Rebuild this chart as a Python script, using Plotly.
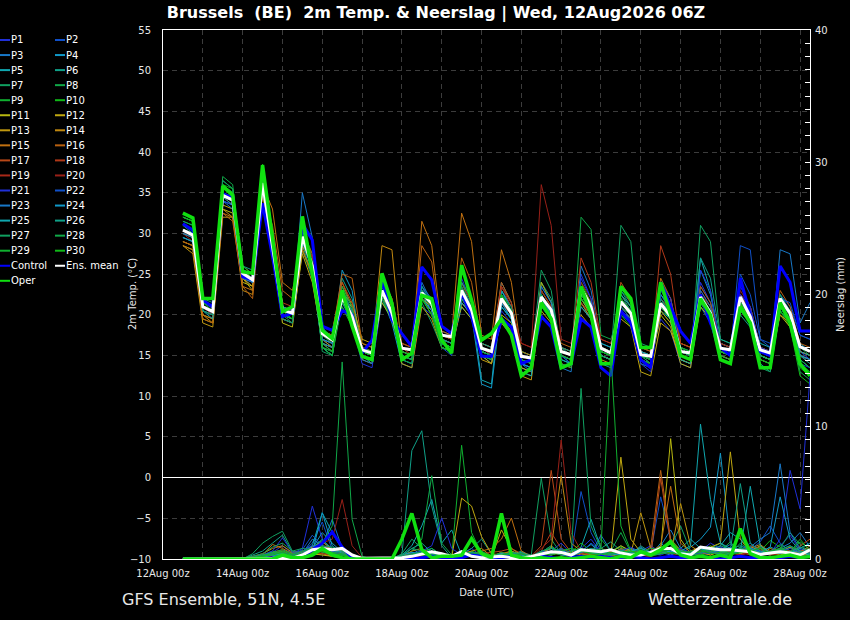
import pandas as pd
import plotly.graph_objects as go

# === Time axis: GFS run 12Aug2026 06Z, 6-hourly steps ===
times = pd.date_range("2026-08-12 12:00", periods=64, freq="6h")

# === 2m temperature (deg C), one list per member ===
T_P1 = [30.0, 29.5, 21.5, 20.8, 34.5, 34.0, 25.5, 24.5, 36.0, 29.0, 20.5, 20.0, 30.0, 27.0, 17.5, 16.5,
        23.0, 20.0, 15.0, 14.5, 24.0, 21.0, 15.5, 15.0, 21.0, 20.0, 17.0, 16.5, 24.5, 21.5, 16.0, 15.0,
        20.5, 19.0, 14.0, 13.5, 21.0, 19.5, 14.5, 14.0, 25.0, 22.0, 16.0, 15.5, 22.0, 20.5, 15.5, 15.0,
        19.5, 18.0, 14.0, 13.5, 24.0, 21.5, 16.5, 16.0, 23.5, 21.0, 16.0, 15.0, 21.0, 19.0, 15.5, 14.5]
T_P2 = [31.0, 30.5, 21.0, 20.0, 35.5, 35.0, 25.0, 24.0, 37.0, 30.0, 21.0, 20.5, 31.0, 25.0, 16.5, 16.0,
        21.0, 19.0, 15.5, 15.0, 22.0, 19.5, 15.0, 14.5, 23.5, 22.0, 18.0, 17.5, 22.0, 20.0, 15.0, 14.0,
        23.0, 21.0, 15.5, 15.0, 23.5, 21.5, 16.0, 15.5, 22.0, 20.0, 15.0, 14.5, 20.5, 19.5, 14.5, 14.0,
        23.0, 21.0, 16.0, 15.5, 21.0, 19.0, 14.5, 14.0, 25.0, 22.5, 17.0, 16.0, 22.5, 21.0, 17.5, 17.0]
T_P3 = [29.5, 29.0, 20.5, 20.0, 34.0, 33.5, 24.5, 23.5, 35.5, 28.0, 20.0, 19.5, 35.0, 29.5, 18.5, 17.0,
        22.0, 19.5, 15.0, 14.5, 22.5, 20.5, 16.0, 15.5, 24.0, 21.5, 16.5, 16.0, 22.0, 20.0, 16.0, 15.5,
        24.0, 21.5, 15.5, 15.0, 20.0, 18.5, 13.5, 13.0, 26.0, 23.0, 16.5, 16.0, 20.0, 19.0, 15.0, 14.0,
        22.0, 20.5, 15.5, 15.0, 21.5, 19.5, 15.0, 14.5, 22.0, 20.0, 15.0, 14.5, 28.0, 27.5, 19.0, 21.5]
T_P4 = [30.5, 30.0, 21.5, 21.0, 35.0, 34.0, 25.5, 25.0, 36.5, 29.0, 20.0, 19.5, 29.0, 26.0, 17.0, 16.0,
        25.5, 23.0, 15.0, 14.0, 22.0, 19.0, 14.0, 13.5, 22.5, 20.5, 16.5, 16.0, 21.0, 19.5, 15.5, 15.0,
        23.0, 21.0, 15.0, 14.5, 22.0, 20.0, 15.0, 14.0, 21.5, 19.5, 15.0, 14.5, 20.5, 19.5, 14.0, 13.5,
        21.0, 19.5, 15.0, 14.5, 25.5, 22.5, 16.5, 16.0, 21.5, 19.5, 15.0, 14.5, 21.5, 20.0, 16.5, 15.5]
T_P5 = [30.0, 29.5, 21.0, 20.5, 34.0, 33.5, 25.0, 24.5, 35.5, 28.5, 20.5, 20.0, 29.5, 26.5, 18.0, 17.5,
        21.5, 19.5, 16.0, 15.5, 23.5, 21.0, 16.0, 15.5, 22.0, 20.5, 16.5, 16.0, 22.5, 21.0, 12.0, 11.5,
        23.0, 20.5, 13.5, 13.0, 22.5, 20.0, 15.5, 15.0, 22.0, 20.5, 16.5, 16.0, 21.5, 20.0, 15.5, 15.0,
        20.5, 19.5, 15.0, 14.5, 27.0, 23.0, 16.0, 15.5, 22.0, 20.0, 16.5, 16.0, 21.0, 19.5, 15.0, 14.0]
T_P6 = [31.0, 30.0, 20.5, 20.0, 35.0, 34.5, 24.5, 24.0, 36.5, 28.0, 20.5, 20.0, 28.5, 25.0, 16.0, 15.0,
        24.5, 22.0, 16.0, 15.5, 21.5, 19.5, 15.0, 14.5, 23.0, 21.5, 17.0, 16.5, 24.0, 21.0, 16.5, 16.0,
        21.0, 19.5, 14.0, 13.5, 24.0, 22.0, 16.0, 15.0, 22.5, 21.0, 16.0, 15.5, 22.5, 20.5, 15.5, 15.0,
        22.0, 20.0, 16.0, 15.5, 23.5, 21.5, 16.5, 16.0, 20.0, 18.5, 14.0, 13.0, 20.5, 19.0, 14.5, 13.5]
T_P7 = [32.0, 31.5, 22.0, 21.5, 36.5, 35.5, 25.5, 25.0, 37.5, 29.5, 20.0, 19.0, 28.0, 24.5, 16.5, 16.0,
        23.0, 21.0, 15.5, 15.0, 23.0, 20.5, 15.5, 15.0, 21.5, 19.0, 16.0, 15.5, 22.0, 20.5, 16.0, 15.5,
        23.5, 21.5, 15.5, 15.0, 25.5, 23.0, 15.5, 15.0, 22.0, 20.5, 16.0, 15.5, 23.0, 21.5, 16.0, 15.5,
        21.0, 19.5, 14.5, 14.0, 31.0, 29.0, 17.0, 16.5, 21.0, 19.0, 14.5, 14.0, 22.0, 20.0, 14.0, 12.5]
T_P8 = [31.5, 31.0, 21.0, 20.5, 37.0, 36.0, 25.0, 24.0, 38.0, 30.0, 21.0, 20.5, 30.5, 27.5, 16.0, 15.0,
        22.5, 20.5, 15.5, 15.0, 22.0, 20.0, 15.5, 15.0, 22.5, 21.0, 17.5, 17.0, 23.5, 20.5, 16.0, 15.5,
        22.0, 20.0, 14.5, 14.0, 23.0, 21.0, 14.5, 14.0, 32.0, 30.5, 17.5, 17.0, 21.0, 19.5, 15.0, 14.0,
        22.0, 20.5, 16.0, 15.0, 22.0, 20.0, 15.5, 15.0, 21.5, 19.5, 15.5, 15.0, 22.5, 20.0, 16.0, 15.0]
T_P9 = [32.0, 31.5, 22.0, 21.0, 36.0, 35.0, 26.0, 25.0, 38.0, 29.0, 19.5, 19.0, 29.0, 26.0, 16.0, 15.5,
        22.0, 19.0, 15.5, 15.0, 23.5, 21.0, 16.0, 15.5, 23.0, 21.5, 16.5, 16.0, 22.5, 20.0, 15.0, 14.5,
        22.5, 20.0, 15.5, 15.0, 21.0, 19.5, 15.0, 14.5, 23.0, 21.0, 15.5, 15.0, 21.0, 20.0, 15.0, 14.5,
        20.5, 19.0, 15.0, 14.5, 21.0, 19.5, 15.5, 15.0, 22.5, 20.5, 16.0, 15.5, 21.0, 19.0, 14.5, 13.5]
T_P10 = [32.5, 32.0, 21.5, 21.0, 36.0, 35.5, 25.5, 24.5, 38.5, 29.5, 20.5, 20.0, 31.0, 27.0, 17.5, 16.5,
         21.0, 18.5, 15.0, 14.5, 22.5, 20.0, 15.5, 15.0, 22.0, 20.5, 16.5, 16.0, 23.0, 21.0, 15.5, 15.0,
         21.5, 19.5, 14.5, 14.0, 22.0, 20.5, 15.5, 15.0, 24.0, 21.5, 15.5, 15.0, 20.0, 18.5, 14.5, 13.5,
         21.5, 19.5, 16.0, 15.5, 22.5, 20.5, 16.0, 15.5, 21.0, 19.0, 15.5, 15.0, 20.5, 18.5, 12.5, 11.5]
T_P11 = [28.5, 28.0, 19.5, 19.0, 33.0, 32.5, 24.0, 23.5, 35.0, 28.0, 19.0, 18.5, 28.0, 25.0, 16.5, 16.0,
         22.0, 21.0, 16.5, 16.0, 21.5, 19.5, 15.0, 14.5, 22.0, 21.0, 17.5, 17.0, 21.0, 19.5, 15.0, 14.0,
         20.0, 19.0, 13.0, 12.5, 24.0, 21.5, 15.5, 15.0, 22.0, 20.0, 15.0, 14.5, 21.0, 19.5, 14.5, 14.0,
         20.0, 18.5, 14.0, 13.5, 22.0, 20.5, 15.5, 15.0, 21.5, 19.5, 15.5, 15.0, 20.0, 18.5, 15.0, 14.5]
T_P12 = [29.0, 28.5, 20.0, 19.5, 33.5, 33.0, 24.5, 23.0, 35.5, 28.5, 19.5, 19.0, 27.5, 24.0, 17.0, 16.5,
         22.5, 21.5, 17.0, 16.5, 23.0, 20.5, 16.5, 16.0, 22.0, 20.0, 16.5, 16.0, 21.5, 20.0, 15.5, 15.0,
         19.0, 17.5, 13.5, 13.0, 20.5, 19.0, 16.0, 15.5, 21.0, 19.5, 16.0, 15.5, 19.5, 18.5, 13.0, 12.5,
         19.0, 18.0, 14.5, 14.0, 21.0, 19.5, 15.5, 15.0, 22.0, 20.0, 15.0, 14.5, 22.0, 20.5, 15.5, 15.0]
T_P13 = [28.5, 27.5, 19.0, 18.5, 32.0, 32.0, 24.5, 23.5, 35.0, 27.5, 19.5, 19.0, 28.5, 26.0, 16.5, 15.5,
         23.5, 21.0, 14.5, 14.0, 22.0, 20.5, 14.0, 13.5, 21.0, 19.5, 16.0, 15.5, 21.5, 20.0, 14.5, 14.0,
         19.5, 18.0, 12.5, 12.0, 21.5, 19.5, 14.0, 13.5, 20.0, 18.5, 14.5, 14.0, 21.5, 20.0, 15.0, 14.5,
         20.5, 19.0, 14.5, 14.0, 21.5, 20.0, 15.0, 14.5, 20.5, 19.0, 14.5, 14.0, 20.0, 19.0, 15.0, 14.5]
T_P14 = [29.0, 28.5, 20.0, 19.0, 33.0, 32.0, 23.0, 22.5, 35.5, 30.0, 21.0, 20.5, 29.0, 26.5, 17.0, 16.0,
         22.0, 20.0, 16.0, 15.5, 28.5, 28.0, 15.5, 15.0, 22.0, 20.5, 17.0, 16.5, 22.5, 20.5, 16.0, 15.5,
         21.5, 20.0, 15.0, 14.5, 22.0, 20.0, 14.0, 13.5, 21.5, 19.5, 15.0, 14.5, 22.0, 20.5, 15.5, 15.0,
         21.0, 19.5, 15.5, 15.0, 22.0, 20.0, 16.0, 15.5, 21.0, 19.5, 15.0, 14.5, 21.5, 20.0, 15.5, 15.0]
T_P15 = [28.5, 28.0, 20.0, 19.5, 32.5, 32.0, 23.5, 23.0, 36.0, 33.0, 24.0, 23.0, 28.0, 25.0, 18.5, 18.0,
         24.0, 21.0, 15.0, 14.5, 23.0, 21.0, 15.5, 15.0, 31.5, 28.5, 18.0, 17.5, 32.5, 29.0, 17.5, 17.0,
         28.0, 24.0, 15.5, 15.0, 22.0, 20.5, 15.0, 14.5, 23.5, 21.5, 16.0, 15.5, 22.5, 21.0, 16.0, 15.5,
         24.5, 22.0, 16.5, 16.0, 22.5, 21.0, 15.5, 15.0, 21.5, 19.5, 15.5, 15.0, 22.0, 20.5, 16.0, 15.5]
T_P16 = [29.0, 28.5, 19.5, 19.0, 32.5, 31.5, 23.5, 22.0, 35.0, 31.0, 23.0, 22.0, 30.0, 27.5, 18.0, 17.5,
         25.0, 24.5, 16.5, 16.0, 24.5, 22.0, 16.0, 15.5, 28.5, 26.5, 17.0, 16.5, 27.0, 24.0, 16.5, 16.0,
         24.0, 21.5, 15.0, 14.5, 23.0, 21.0, 16.5, 16.0, 22.5, 20.5, 15.0, 14.5, 23.5, 21.5, 15.5, 15.0,
         24.0, 22.0, 16.5, 16.0, 21.5, 20.0, 15.0, 14.5, 22.5, 21.0, 16.0, 15.5, 23.0, 21.0, 16.5, 16.0]
T_P17 = [30.5, 30.0, 21.0, 20.5, 34.5, 34.0, 25.5, 24.5, 36.5, 29.5, 21.0, 20.5, 30.0, 27.0, 18.0, 17.5,
         24.0, 21.5, 15.0, 14.5, 24.5, 22.0, 16.0, 15.0, 22.5, 21.0, 17.0, 16.5, 24.0, 21.5, 15.5, 15.0,
         22.0, 20.0, 15.0, 14.5, 22.5, 20.5, 15.5, 15.0, 21.5, 20.0, 15.5, 15.0, 24.0, 22.0, 16.0, 15.5,
         22.5, 21.0, 15.0, 14.5, 23.5, 21.5, 16.5, 16.0, 22.0, 20.5, 16.0, 15.5, 21.5, 20.0, 15.5, 15.0]
T_P18 = [30.5, 29.5, 21.5, 21.0, 34.5, 34.0, 26.0, 25.0, 36.0, 28.5, 21.5, 21.0, 29.0, 26.0, 17.5, 17.0,
         22.5, 20.0, 16.0, 15.5, 23.0, 20.5, 16.5, 16.0, 23.0, 21.0, 16.0, 15.5, 22.5, 21.0, 16.5, 16.0,
         23.5, 21.5, 15.0, 14.5, 22.0, 20.0, 16.0, 15.5, 27.0, 24.0, 17.0, 16.5, 22.0, 20.0, 15.0, 14.5,
         28.5, 25.0, 16.5, 16.0, 22.0, 20.5, 16.0, 15.5, 22.5, 21.0, 16.0, 15.5, 22.0, 20.0, 15.0, 14.5]
T_P19 = [30.0, 29.5, 21.0, 20.0, 35.0, 34.0, 25.0, 24.5, 36.5, 28.0, 20.5, 20.0, 30.5, 27.0, 17.0, 16.5,
         22.0, 19.5, 15.5, 15.0, 24.0, 21.5, 16.0, 15.5, 22.5, 21.0, 17.5, 17.0, 23.0, 21.0, 16.0, 15.0,
         23.5, 21.0, 16.5, 16.0, 23.0, 21.0, 15.5, 15.0, 24.0, 22.0, 17.0, 16.5, 21.5, 20.0, 15.5, 15.0,
         22.0, 20.5, 15.5, 15.0, 23.0, 21.0, 16.0, 15.5, 22.5, 20.5, 15.5, 15.0, 21.0, 19.5, 15.0, 14.0]
T_P20 = [30.0, 29.0, 20.5, 20.0, 34.5, 33.5, 24.5, 24.0, 36.0, 29.0, 20.5, 20.0, 29.5, 26.5, 17.5, 17.0,
         22.5, 20.5, 16.0, 15.5, 23.0, 20.5, 15.5, 15.0, 22.0, 20.5, 17.0, 16.5, 23.5, 21.0, 16.0, 15.5,
         21.5, 20.0, 16.5, 16.0, 36.0, 31.0, 17.0, 16.5, 23.0, 21.0, 16.0, 15.5, 22.0, 20.5, 15.5, 15.0,
         21.5, 20.0, 15.0, 14.5, 22.5, 21.0, 16.5, 16.0, 23.0, 21.0, 15.5, 15.0, 22.0, 20.5, 16.0, 15.5]
T_P21 = [30.5, 30.0, 21.0, 20.5, 34.0, 33.5, 25.0, 24.0, 35.5, 27.5, 19.5, 19.0, 29.0, 25.5, 16.0, 15.5,
         21.5, 19.0, 14.0, 13.5, 22.0, 20.0, 14.5, 14.0, 23.0, 21.5, 16.5, 16.0, 22.5, 20.5, 15.5, 15.0,
         22.0, 20.0, 14.5, 14.0, 22.5, 20.5, 15.0, 14.5, 24.5, 22.0, 15.0, 14.5, 21.5, 20.0, 14.0, 13.0,
         24.0, 22.0, 15.5, 15.0, 25.5, 23.0, 16.0, 15.5, 22.5, 21.0, 16.0, 15.5, 20.5, 19.0, 14.0, 13.5]
T_P22 = [31.0, 30.5, 21.5, 21.0, 35.0, 34.5, 24.5, 24.0, 37.0, 29.0, 20.0, 19.5, 30.0, 26.5, 17.0, 16.5,
         22.5, 20.5, 15.0, 14.5, 23.5, 21.5, 16.0, 15.5, 23.5, 21.0, 16.0, 15.0, 23.0, 21.5, 16.0, 15.5,
         21.5, 19.5, 14.0, 13.5, 22.0, 20.0, 15.0, 14.0, 22.5, 21.0, 15.5, 15.0, 21.0, 19.5, 15.0, 14.5,
         21.5, 20.0, 15.0, 14.5, 22.0, 20.5, 15.5, 15.0, 28.5, 28.0, 17.0, 16.5, 22.0, 21.5, 17.5, 17.0]
T_P23 = [29.5, 29.0, 20.5, 20.0, 34.0, 33.0, 24.5, 24.0, 36.0, 28.0, 20.0, 19.5, 29.0, 26.0, 16.5, 16.0,
         22.0, 20.0, 14.5, 14.0, 24.0, 21.5, 15.0, 14.5, 22.0, 20.5, 16.0, 15.5, 23.0, 21.0, 15.5, 15.0,
         21.0, 19.5, 14.0, 13.0, 23.5, 21.5, 15.5, 15.0, 22.5, 20.5, 15.5, 15.0, 21.5, 20.0, 15.0, 14.5,
         22.5, 20.5, 15.5, 15.0, 23.0, 21.0, 15.5, 15.0, 21.0, 19.5, 15.0, 14.5, 21.5, 20.0, 15.0, 14.5]
T_P24 = [30.0, 29.5, 21.0, 20.5, 34.5, 34.0, 25.0, 24.0, 36.0, 29.0, 21.0, 20.0, 30.5, 26.0, 17.0, 16.5,
         21.5, 19.5, 15.5, 15.0, 22.5, 20.0, 14.5, 14.0, 22.0, 20.5, 17.0, 16.5, 21.5, 20.0, 11.5, 11.0,
         21.5, 19.5, 14.0, 13.5, 22.5, 20.5, 15.0, 14.5, 21.0, 19.5, 14.0, 13.5, 22.0, 20.5, 15.5, 15.0,
         22.5, 21.0, 15.5, 15.0, 22.0, 20.0, 16.0, 15.5, 21.5, 20.0, 15.5, 15.0, 21.0, 19.5, 15.0, 14.5]
T_P25 = [29.5, 29.0, 20.5, 19.5, 34.5, 33.5, 25.5, 25.0, 35.5, 28.5, 21.0, 20.5, 29.5, 26.5, 16.0, 15.0,
         23.0, 20.5, 15.0, 14.5, 23.5, 21.5, 15.5, 15.0, 23.0, 21.5, 16.5, 16.0, 22.0, 20.5, 15.0, 14.5,
         21.0, 19.5, 13.0, 12.5, 22.0, 20.0, 14.5, 14.0, 23.0, 21.5, 15.0, 14.5, 22.5, 21.0, 15.5, 15.0,
         21.0, 19.5, 14.5, 14.0, 22.5, 20.5, 16.0, 15.5, 21.5, 20.0, 15.0, 14.5, 21.0, 19.5, 15.5, 15.0]
T_P26 = [30.5, 30.0, 21.5, 21.0, 35.0, 34.0, 26.0, 25.5, 36.5, 29.0, 20.0, 19.5, 29.0, 25.5, 16.0, 15.0,
         22.0, 20.5, 15.5, 15.0, 22.5, 20.5, 16.0, 15.5, 23.5, 21.5, 17.0, 16.5, 24.0, 22.0, 16.5, 16.0,
         22.0, 20.5, 14.5, 14.0, 22.5, 20.0, 16.0, 15.5, 23.0, 21.0, 16.0, 15.5, 23.0, 21.0, 15.0, 14.5,
         22.0, 20.0, 15.5, 15.0, 27.0, 24.5, 17.0, 16.5, 22.0, 20.5, 15.5, 15.0, 22.5, 20.5, 15.0, 14.0]
T_P27 = [31.5, 31.0, 20.5, 20.0, 36.5, 35.5, 25.0, 24.5, 37.5, 28.5, 19.5, 19.0, 29.5, 26.5, 15.5, 15.0,
         23.0, 20.5, 15.0, 14.5, 22.5, 20.0, 15.0, 14.5, 23.0, 21.0, 16.5, 16.0, 23.5, 21.0, 15.5, 15.0,
         22.5, 21.0, 15.0, 14.5, 22.0, 19.5, 14.0, 13.5, 22.5, 21.0, 15.5, 15.0, 31.0, 29.0, 16.5, 16.0,
         21.5, 20.0, 15.0, 14.5, 22.0, 20.5, 15.5, 15.0, 20.5, 19.0, 13.5, 13.0, 21.0, 19.0, 14.5, 13.5]
T_P28 = [32.0, 31.5, 21.5, 21.0, 36.0, 35.0, 25.5, 24.5, 37.5, 30.0, 20.5, 20.0, 29.5, 26.0, 16.5, 15.5,
         23.5, 21.0, 16.0, 15.5, 22.0, 19.5, 15.0, 14.5, 22.5, 21.0, 16.0, 15.5, 22.5, 20.5, 15.0, 14.5,
         22.5, 20.0, 14.5, 14.0, 21.5, 19.5, 15.0, 14.5, 23.0, 20.5, 15.0, 14.5, 22.0, 20.0, 14.5, 14.0,
         21.0, 19.5, 15.0, 14.5, 22.5, 20.5, 15.0, 14.5, 21.5, 20.0, 14.5, 14.0, 20.5, 19.0, 13.0, 12.0]
T_P29 = [31.0, 30.5, 21.0, 20.5, 35.5, 35.0, 26.0, 25.0, 37.0, 29.0, 20.0, 19.5, 30.0, 26.0, 16.0, 15.0,
         21.5, 19.5, 15.5, 15.0, 22.0, 19.5, 14.5, 14.0, 22.0, 20.0, 16.5, 16.0, 22.0, 20.0, 15.5, 15.0,
         22.0, 20.0, 14.5, 14.0, 22.5, 20.5, 15.0, 14.5, 22.0, 20.5, 15.5, 15.0, 21.5, 20.0, 14.5, 14.0,
         21.5, 20.0, 15.5, 15.0, 21.5, 19.5, 14.5, 14.0, 22.0, 20.0, 15.0, 14.5, 21.5, 19.5, 14.0, 13.0]
T_P30 = [32.0, 31.5, 21.5, 20.5, 36.0, 35.0, 25.5, 25.0, 38.0, 30.5, 20.5, 19.5, 30.0, 26.5, 16.0, 15.5,
         22.0, 19.5, 15.5, 15.0, 22.5, 20.0, 15.5, 15.0, 22.0, 20.0, 16.0, 15.5, 22.5, 20.5, 16.0, 15.5,
         22.5, 20.5, 15.0, 14.5, 22.0, 20.5, 15.5, 15.0, 22.5, 20.5, 15.5, 15.0, 22.0, 20.5, 15.0, 14.5,
         21.0, 19.5, 15.0, 14.5, 22.0, 20.0, 15.5, 15.0, 21.5, 19.5, 14.5, 14.0, 20.5, 19.0, 13.5, 12.5]

T_control = [31.2, 30.4, 21.8, 21.0, 34.9, 34.3, 24.7, 24.3, 33.7, 27.2, 19.8, 20.2, 31.2, 29.2, 18.6, 18.1,
             20.5, 20.0, 15.3, 16.9, 24.3, 19.4, 17.7, 16.1, 25.9, 24.3, 18.6, 17.7, 22.7, 19.8, 14.9, 14.9,
             19.5, 18.5, 14.0, 14.5, 19.8, 18.5, 13.5, 14.0, 19.5, 18.5, 13.5, 12.5, 20.5, 19.0, 14.5, 13.5,
             24.0, 21.0, 18.0, 16.5, 22.5, 19.0, 16.0, 15.0, 24.5, 20.0, 15.5, 15.0, 26.0, 24.0, 18.0, 18.0]
T_oper = [32.5, 31.9, 22.0, 22.0, 35.8, 34.7, 25.3, 25.1, 38.4, 29.2, 20.4, 21.0, 32.1, 25.1, 18.1, 17.1,
          23.0, 18.6, 14.9, 14.5, 25.1, 21.4, 14.5, 15.3, 22.4, 22.0, 16.9, 15.3, 26.1, 21.8, 16.9, 17.7,
          19.5, 17.5, 12.5, 13.5, 21.5, 19.5, 13.5, 14.0, 23.5, 20.0, 14.0, 14.0, 23.5, 22.0, 16.0, 16.0,
          24.0, 20.0, 15.0, 14.5, 22.0, 20.0, 14.5, 14.0, 21.0, 19.0, 13.5, 13.5, 21.5, 19.0, 14.0, 12.5]
T_mean = [30.4, 29.8, 21.0, 20.4, 34.7, 34.1, 25.1, 24.3, 36.2, 28.5, 20.6, 20.2, 29.6, 26.0, 17.7, 16.9,
          22.2, 19.8, 15.7, 15.3, 23.0, 20.2, 15.9, 15.7, 22.7, 21.4, 17.5, 17.3, 23.0, 20.6, 15.9, 15.5,
          22.0, 20.2, 14.9, 14.7, 22.2, 20.6, 15.5, 15.1, 23.3, 21.0, 15.9, 15.3, 21.6, 20.2, 15.1, 14.9,
          21.4, 19.8, 15.5, 15.3, 22.2, 20.2, 15.9, 15.7, 22.2, 19.8, 15.7, 15.3, 22.0, 20.2, 16.1, 15.5]

# === Precipitation (mm per 6h), one list per member ===
R_P1 = [0, 0, 0, 0, 0, 0, 0, 0.2, 0.3, 0.5, 1.0, 0.4, 0.8, 4.0, 1.5, 0.6,
        0.3, 0.1, 0, 0, 0, 0, 0.1, 0.5, 0.2, 0.4, 0, 0, 0.3, 0.8, 0.2, 0,
        0, 0.5, 0.2, 0, 0.3, 0.6, 1.2, 0.4, 0.8, 1.5, 0.5, 0.3, 0.4, 0.2, 0.6, 1.0,
        0.5, 0.8, 0.3, 0.2, 0.6, 1.2, 0.8, 0.4, 0.9, 0.5, 0.3, 0.6, 1.0, 1.8, 0.7, 0.4]
R_P2 = [0, 0, 0, 0, 0, 0, 0, 0.1, 0.2, 0.4, 0.6, 0.3, 0.5, 1.2, 2.8, 0.7,
        0.4, 0.2, 0, 0, 0, 0, 0, 0.3, 0.5, 0.2, 0.1, 0, 0.2, 0.4, 0.1, 0,
        0.2, 0.6, 0.3, 0.1, 0.5, 1.0, 0.4, 0.2, 5.1, 2.0, 0.6, 0.3, 0.8, 0.4, 0.3, 0.5,
        4.7, 1.5, 0.6, 0.3, 0.5, 0.8, 1.2, 0.6, 0.4, 0.7, 1.3, 2.5, 1.2, 0.6, 0.3, 0.8]
R_P3 = [0, 0, 0, 0, 0, 0, 0, 0, 0.2, 0.3, 0.5, 0.2, 0.4, 1.5, 1.0, 3.0,
        0.8, 0.3, 0, 0, 0, 0, 0.2, 0.8, 0.3, 0.6, 0.2, 0, 0.1, 0.3, 0.5, 0.2,
        0.3, 0.2, 0.1, 0, 0.4, 0.8, 0.5, 0.3, 0.7, 0.4, 1.8, 0.6, 0.3, 0.5, 0.9, 0.4,
        1.0, 2.2, 0.8, 0.3, 0.6, 0.4, 0.7, 1.1, 0.5, 0.9, 0.4, 0.3, 0.8, 1.2, 2.0, 0.9]
R_P4 = [0, 0, 0, 0, 0, 0, 0, 0.1, 0.1, 0.2, 0.4, 0.2, 0.3, 0.8, 2.0, 1.2,
        0.5, 0.2, 0, 0, 0, 0, 0, 0.2, 0.4, 0.8, 0.3, 0.1, 0.2, 0.5, 0.3, 0.1,
        0.4, 0.3, 0.2, 0.1, 0.3, 0.5, 0.8, 0.4, 0.6, 1.1, 0.5, 0.2, 0.4, 0.8, 0.5, 0.3,
        1.2, 0.6, 0.4, 0.9, 1.5, 2.4, 8.0, 1.2, 0.6, 0.4, 0.8, 0.5, 0.7, 1.0, 0.6, 0.4]
R_P5 = [0, 0, 0, 0, 0, 0, 0, 0, 0.1, 0.3, 0.5, 0.3, 0.6, 1.0, 3.5, 2.0,
        0.7, 0.3, 0.1, 0, 0, 0, 0.3, 1.0, 2.5, 4.5, 1.2, 2.2, 0.3, 0.5, 0.2, 0,
        0.2, 0.4, 0.3, 0.1, 0.5, 0.8, 0.6, 0.4, 0.9, 3.0, 0.8, 0.3, 0.5, 0.7, 0.4, 0.6,
        0.9, 0.5, 0.8, 1.5, 0.8, 0.6, 1.0, 2.0, 1.5, 0.8, 0.5, 0.9, 0.6, 0.4, 0.8, 1.2]
R_P6 = [0, 0, 0, 0, 0, 0, 0, 0.3, 0.6, 1.2, 1.8, 0.5, 0.4, 0.9, 1.4, 0.8,
        0.3, 0.2, 0, 0, 0, 0.1, 0.3, 8.2, 9.7, 4.0, 1.0, 0.1, 0.4, 0.8, 1.5, 0.4,
        0.2, 0.3, 0.6, 0.2, 0.4, 0.9, 0.5, 0.3, 0.6, 0.4, 0.8, 1.3, 0.6, 0.3, 1.0, 0.5,
        0.7, 1.2, 0.5, 0.3, 0.9, 0.6, 0.4, 0.8, 1.0, 0.7, 0.5, 0.4, 0.6, 0.9, 0.5, 0.3]
R_P7 = [0, 0, 0, 0, 0, 0, 0, 0.4, 1.2, 1.7, 2.1, 0.6, 0.3, 0.5, 0.8, 0.4,
        0.6, 0.2, 0, 0, 0, 0, 0.4, 1.5, 0.8, 0.3, 0.1, 0, 0.2, 0.4, 0.1, 0,
        0.3, 0.2, 0.5, 0.3, 6.1, 1.5, 0.4, 0.2, 0.5, 0.8, 0.3, 0.6, 1.0, 0.5, 0.3, 0.2,
        0.4, 0.9, 2.5, 0.6, 0.3, 0.5, 0.8, 0.4, 1.2, 0.6, 0.3, 0.5, 0.8, 2.0, 1.1, 0.5]
R_P8 = [0, 0, 0, 0, 0, 0, 0, 0.1, 0.2, 0.4, 0.3, 0.5, 0.6, 0.9, 1.2, 2.5,
        14.9, 3.0, 0.2, 0, 0, 0, 0.2, 0.6, 1.5, 6.3, 1.2, 0.3, 0.4, 0.2, 0.1, 0,
        0.2, 0.5, 0.3, 0.1, 0.4, 0.3, 0.6, 0.8, 0.5, 0.4, 1.5, 0.6, 2.0, 0.5, 0.3, 0.4,
        0.6, 0.8, 0.4, 0.3, 0.5, 1.0, 0.6, 1.3, 0.4, 0.7, 0.9, 0.5, 1.1, 0.6, 0.4, 0.8]
R_P9 = [0, 0, 0, 0, 0, 0, 0, 0, 0.1, 0.3, 0.5, 0.2, 0.4, 0.6, 0.8, 0.5,
        0.3, 0.1, 0, 0, 0, 0, 0.2, 0.4, 0.6, 0.8, 0.3, 0.1, 8.6, 2.0, 0.4, 0.1,
        0.3, 0.2, 0.4, 0.2, 0.5, 1.0, 0.4, 0.3, 0.7, 0.5, 0.4, 0.6, 0.9, 0.4, 0.3, 0.5,
        1.0, 0.6, 0.4, 0.3, 0.5, 0.8, 1.2, 0.6, 0.4, 0.9, 0.5, 0.3, 0.6, 0.4, 1.3, 0.7]
R_P10 = [0, 0, 0, 0, 0, 0, 0, 0.1, 0.3, 0.6, 0.4, 0.2, 0.5, 0.3, 0.6, 0.8,
         0.4, 0.2, 0, 0, 0, 0, 0, 0.3, 0.5, 0.3, 0.2, 0, 0.2, 0.6, 0.3, 0.1,
         0.4, 0.3, 0.2, 0.1, 0.6, 0.4, 0.8, 0.5, 1.2, 0.6, 0.4, 0.3, 0.5, 0.3, 0.8, 0.4,
         0.6, 1.5, 0.7, 0.4, 0.3, 0.5, 0.4, 0.6, 0.8, 0.4, 0.6, 1.4, 0.9, 0.5, 0.3, 0.6]
R_P11 = [0, 0, 0, 0, 0, 0, 0, 0, 0.1, 0.2, 0.3, 0.1, 0.2, 0.4, 0.3, 0.2,
         0.1, 0, 0, 0, 0, 0, 0, 0.2, 0.3, 0.1, 0, 0, 0.2, 0.5, 0.3, 0.1,
         2.2, 0.8, 0.3, 0.1, 0.4, 0.3, 0.5, 0.6, 0.3, 0.4, 0.8, 0.5, 1.0, 0.6, 0.4, 0.3,
         0.7, 9.1, 1.5, 0.4, 0.5, 0.3, 0.6, 0.8, 0.4, 0.6, 1.0, 0.5, 0.3, 0.5, 0.4, 0.2]
R_P12 = [0, 0, 0, 0, 0, 0, 0, 0, 0.1, 0.2, 0.1, 0, 0.2, 0.3, 0.4, 0.2,
         0.1, 0, 0, 0, 0, 0, 0.1, 0.2, 0.4, 0.2, 0.1, 0.1, 4.6, 4.0, 1.7, 0.4,
         0.3, 0.6, 0.2, 0.1, 0.3, 0.5, 0.4, 0.2, 0.6, 0.3, 0.5, 0.4, 7.7, 1.5, 0.5, 0.3,
         0.4, 0.8, 0.6, 0.3, 0.5, 0.9, 1.2, 8.1, 1.5, 0.5, 0.3, 0.4, 0.6, 0.3, 0.2, 0.4]
R_P13 = [0, 0, 0, 0, 0, 0, 0, 0, 0.2, 0.4, 0.6, 0.3, 0.5, 0.8, 0.6, 0.4,
         0.3, 0.1, 0, 0, 0, 0, 0, 0.1, 0.3, 0.5, 0.2, 0, 0.4, 0.6, 0.8, 0.2,
         0.5, 0.3, 0.2, 0.1, 0.3, 0.4, 0.6, 0.5, 0.4, 0.6, 0.3, 0.2, 0.5, 0.4, 3.5, 0.8,
         0.6, 0.4, 4.2, 1.0, 0.5, 0.3, 0.6, 0.4, 0.7, 0.5, 0.3, 0.8, 0.5, 0.9, 0.4, 0.3]
R_P14 = [0, 0, 0, 0, 0, 0, 0, 0.2, 0.4, 0.8, 1.0, 0.5, 0.6, 0.9, 1.3, 0.7,
         0.4, 0.2, 0, 0, 0, 0, 0.2, 0.6, 0.8, 0.4, 0.1, 0, 0.5, 0.3, 0.2, 0.1,
         0.4, 0.6, 0.3, 0.1, 0.5, 0.8, 6.3, 1.2, 0.6, 0.4, 0.3, 0.5, 0.7, 0.4, 0.6, 0.3,
         0.5, 0.8, 0.4, 0.6, 0.9, 0.5, 0.3, 0.4, 0.6, 0.8, 1.1, 0.5, 0.4, 0.3, 0.5, 1.0]
R_P15 = [0, 0, 0, 0, 0, 0, 0, 0.1, 0.3, 1.1, 0.8, 0.4, 0.5, 0.6, 1.0, 0.8,
         0.5, 0.2, 0.1, 0, 0, 0, 0.3, 0.4, 0.3, 0.2, 0.1, 0, 0.3, 0.4, 0.6, 0.8,
         1.5, 3.1, 0.6, 0.2, 0.4, 0.5, 0.3, 0.2, 0.6, 0.4, 0.5, 0.3, 0.8, 0.5, 0.4, 0.6,
         1.0, 5.5, 1.2, 0.5, 0.4, 0.6, 0.8, 0.5, 0.6, 0.4, 0.5, 0.3, 0.7, 0.5, 0.6, 0.4]
R_P16 = [0, 0, 0, 0, 0, 0, 0, 0, 0.2, 0.5, 0.7, 0.4, 0.3, 0.6, 0.8, 0.5,
         0.6, 0.3, 0, 0, 0, 0, 0, 0.2, 0.4, 0.6, 0.3, 0, 0.2, 0.3, 0.5, 0.2,
         0.3, 0.4, 0.2, 0.1, 0.5, 0.6, 0.4, 0.3, 0.4, 0.8, 0.5, 0.6, 0.5, 0.3, 0.4, 0.9,
         6.7, 1.5, 0.6, 0.4, 0.5, 0.7, 0.4, 0.3, 0.6, 1.0, 0.8, 0.4, 0.5, 0.3, 0.6, 0.8]
R_P17 = [0, 0, 0, 0, 0, 0, 0, 0.1, 0.2, 0.3, 0.5, 0.3, 0.4, 0.7, 0.5, 0.3,
         0.8, 0.3, 0, 0, 0, 0, 0.1, 0.3, 0.2, 0.4, 0.2, 0.1, 0.3, 0.2, 0.4, 0.5,
         0.6, 0.8, 0.4, 0.2, 1.0, 6.7, 1.5, 0.5, 0.4, 0.3, 0.6, 0.5, 0.4, 0.6, 0.3, 0.2,
         6.1, 1.2, 0.5, 0.3, 0.6, 0.4, 0.8, 0.5, 0.3, 0.5, 0.7, 0.4, 0.6, 0.4, 1.0, 1.5]
R_P18 = [0, 0, 0, 0, 0, 0, 0, 0, 0.1, 0.3, 0.4, 0.2, 0.3, 0.5, 0.4, 0.3,
         0.5, 0.2, 0, 0, 0, 0, 0, 0.2, 0.3, 0.5, 0.4, 0.1, 0.2, 0.3, 0.2, 0.1,
         0.5, 0.3, 0.2, 0.1, 0.6, 2.0, 0.8, 0.4, 0.5, 0.6, 0.4, 0.3, 0.3, 0.5, 0.6, 0.4,
         0.8, 0.5, 0.7, 0.3, 0.4, 0.6, 0.5, 0.8, 0.5, 0.3, 0.4, 0.6, 0.8, 0.6, 0.4, 0.5]
R_P19 = [0, 0, 0, 0, 0, 0, 0, 0, 0.2, 0.4, 0.3, 0.2, 0.3, 0.4, 0.6, 0.5,
         0.7, 0.2, 0, 0, 0, 0, 0, 0.1, 0.2, 0.3, 0.1, 0, 0.1, 0.3, 0.2, 0.1,
         0.2, 0.4, 0.3, 0.1, 0.3, 0.5, 0.7, 0.4, 0.5, 0.4, 0.3, 0.6, 0.4, 0.3, 0.5, 0.3,
         0.6, 0.4, 0.3, 0.5, 0.4, 0.7, 0.5, 0.3, 0.6, 0.4, 0.5, 0.3, 0.4, 0.6, 0.3, 0.5]
R_P20 = [0, 0, 0, 0, 0, 0, 0, 0, 0.1, 0.2, 0.4, 0.3, 0.5, 0.8, 1.2, 1.5,
         4.5, 1.0, 0.1, 0, 0, 0, 0, 0.2, 0.3, 0.2, 0.1, 0, 0.2, 0.4, 0.3, 0.1,
         0.3, 0.5, 0.2, 0.1, 0.8, 1.5, 9.0, 2.0, 0.6, 0.4, 0.3, 0.5, 0.4, 0.6, 0.3, 0.2,
         0.5, 0.8, 0.4, 0.3, 0.6, 0.4, 0.7, 0.5, 0.3, 0.5, 0.4, 0.6, 0.5, 0.3, 0.4, 0.6]
R_P21 = [0, 0, 0, 0, 0, 0, 0, 0.1, 0.3, 0.6, 1.6, 0.5, 0.6, 1.0, 0.8, 0.5,
         0.3, 0.2, 0, 0, 0, 0, 0.2, 0.4, 0.6, 1.0, 3.1, 0.8, 0.3, 0.2, 0.1, 0,
         0.2, 0.4, 0.3, 0.1, 0.5, 0.3, 0.6, 0.4, 0.8, 0.5, 0.4, 0.3, 0.6, 0.9, 0.5, 0.4,
         0.3, 0.6, 0.8, 0.5, 0.4, 0.7, 0.9, 0.6, 0.5, 0.8, 0.6, 0.4, 1.5, 6.7, 3.8, 13.8]
R_P22 = [0, 0, 0, 0, 0, 0, 0, 0, 0.2, 0.3, 0.5, 0.3, 0.7, 1.8, 1.0, 0.6,
         0.4, 0.2, 0, 0, 0, 0, 0, 0.3, 0.5, 0.3, 0.2, 0, 0.2, 0.5, 0.3, 0.1,
         0.3, 0.2, 0.4, 0.2, 0.6, 0.4, 0.8, 0.3, 0.5, 1.2, 0.6, 0.4, 0.3, 0.5, 0.4, 0.6,
         0.8, 0.6, 0.5, 0.3, 0.5, 0.4, 0.6, 0.9, 0.7, 1.2, 0.5, 0.4, 0.6, 0.8, 0.5, 0.4]
R_P23 = [0, 0, 0, 0, 0, 0, 0, 0.1, 0.2, 0.4, 0.3, 0.2, 0.4, 1.0, 0.7, 0.4,
         0.3, 0.1, 0, 0, 0, 0, 0.1, 0.2, 0.4, 0.3, 0.2, 0, 0.2, 0.3, 0.4, 0.2,
         0.3, 0.5, 0.2, 0.1, 0.4, 0.6, 0.3, 0.2, 0.5, 0.7, 0.4, 0.3, 0.6, 0.5, 0.3, 0.4,
         0.5, 0.3, 0.6, 0.4, 0.7, 0.5, 0.4, 0.3, 0.6, 0.9, 1.5, 2.0, 7.2, 2.0, 0.8, 0.5]
R_P24 = [0, 0, 0, 0, 0, 0, 0, 0, 0.1, 0.3, 0.2, 0.1, 0.3, 0.5, 3.5, 1.0,
         0.4, 0.2, 0, 0, 0, 0, 0.3, 0.5, 0.4, 0.6, 0.3, 0.1, 0.2, 0.4, 0.3, 0.2,
         0.4, 0.3, 0.2, 0.1, 0.3, 0.5, 0.4, 0.6, 0.8, 0.5, 0.3, 0.4, 0.6, 0.4, 0.5, 0.3,
         0.4, 0.6, 0.3, 0.5, 0.8, 0.6, 0.5, 0.4, 0.6, 0.8, 0.5, 0.9, 4.7, 1.5, 0.6, 0.4]
R_P25 = [0, 0, 0, 0, 0, 0, 0, 0, 0.2, 0.3, 0.4, 0.2, 0.3, 0.6, 0.8, 0.5,
         0.6, 0.3, 0.1, 0, 0, 0, 0.1, 0.3, 0.5, 0.4, 0.2, 0.1, 0.3, 0.5, 0.2, 0.1,
         0.4, 0.2, 0.3, 0.1, 0.5, 0.4, 0.7, 0.3, 0.6, 0.4, 0.5, 0.3, 0.4, 0.6, 0.8, 0.5,
         0.7, 0.5, 0.6, 1.0, 10.2, 4.5, 1.2, 0.8, 0.6, 5.5, 1.0, 0.5, 0.4, 0.6, 0.5, 0.3]
R_P26 = [0, 0, 0, 0, 0, 0, 0, 0.1, 0.3, 0.5, 0.4, 0.3, 0.5, 0.8, 1.5, 0.7,
         0.5, 0.3, 0, 0, 0, 0, 0.2, 0.8, 1.2, 0.5, 0.3, 0.1, 0.3, 0.4, 0.2, 0.1,
         0.2, 0.3, 0.5, 0.2, 0.4, 0.6, 0.5, 0.3, 0.5, 0.8, 0.6, 0.4, 0.7, 0.4, 0.6, 0.5,
         0.6, 0.9, 0.5, 0.4, 0.8, 0.6, 1.0, 0.7, 5.7, 1.2, 0.6, 0.5, 0.8, 0.5, 0.9, 0.6]
R_P27 = [0, 0, 0, 0, 0, 0, 0, 0.2, 0.4, 0.9, 1.2, 0.6, 0.8, 0.7, 1.0, 0.9,
         0.6, 0.3, 0, 0, 0, 0, 0.3, 0.8, 0.6, 0.4, 0.2, 0.1, 0.4, 0.5, 0.3, 0.1,
         0.3, 0.5, 0.4, 0.2, 0.6, 0.8, 0.5, 0.3, 12.9, 2.5, 0.8, 0.4, 0.6, 0.5, 0.7, 0.4,
         0.5, 0.8, 0.6, 0.3, 0.4, 0.7, 0.6, 0.5, 0.8, 0.5, 0.4, 0.6, 0.7, 1.0, 0.6, 0.4]
R_P28 = [0, 0, 0, 0, 0, 0, 0, 0.1, 0.2, 0.5, 0.7, 0.4, 0.6, 0.8, 0.5, 0.4,
         0.3, 0.2, 0, 0, 0, 0, 0.2, 0.4, 0.5, 0.3, 0.2, 0.1, 0.3, 0.4, 0.6, 0.2,
         0.5, 0.3, 0.2, 0.1, 0.4, 0.5, 0.3, 0.6, 0.8, 0.5, 0.4, 0.3, 0.6, 0.4, 0.5, 0.8,
         0.7, 0.4, 0.6, 0.5, 0.5, 0.8, 0.6, 0.4, 0.9, 0.5, 0.3, 0.4, 0.6, 0.5, 0.4, 0.8]
R_P29 = [0, 0, 0, 0, 0, 0, 0, 0, 0.3, 0.4, 0.6, 0.3, 0.4, 0.6, 0.7, 0.5,
         0.4, 0.2, 0, 0, 0, 0, 0.1, 0.3, 0.4, 0.5, 0.3, 0.1, 0.2, 0.3, 0.4, 0.2,
         0.3, 0.4, 0.2, 0.1, 0.5, 0.4, 0.6, 0.8, 0.6, 0.5, 0.8, 15.5, 2.5, 0.6, 0.4, 0.3,
         0.5, 0.7, 0.4, 0.3, 0.6, 0.5, 0.8, 0.4, 0.5, 0.7, 0.4, 0.6, 0.8, 0.5, 1.5, 0.6]
R_P30 = [0, 0, 0, 0, 0, 0, 0, 0.1, 0.2, 0.3, 0.5, 0.2, 0.3, 0.5, 0.6, 0.4,
         0.3, 0.1, 0, 0, 0, 0, 0, 0.2, 0.3, 0.2, 0.1, 0, 0.2, 0.4, 0.3, 0.1,
         0.3, 0.2, 0.4, 0.1, 0.4, 0.3, 0.5, 0.4, 0.6, 0.4, 0.3, 0.5, 0.5, 0.6, 0.4, 0.3,
         0.4, 0.5, 0.3, 0.6, 0.7, 0.4, 0.5, 0.3, 0.5, 0.6, 0.8, 0.4, 0.5, 0.3, 0.4, 0.6]

R_control = [0, 0, 0, 0, 0, 0, 0, 0, 0, 0.1, 0.2, 0.1, 0.1, 0.7, 1.2, 2.05,
             0.9, 0.1, 0, 0, 0, 0, 0, 0, 0.1, 0.2, 0.1, 0, 0.1, 0.3, 0.2, 0.1,
             0.1, 0.2, 0.1, 0, 0.2, 0.1, 0, 0.1, 0.2, 0.1, 0.2, 0.1, 0.1, 0.2, 0.1, 0,
             0.1, 0.2, 0.1, 0.1, 0.2, 0.1, 0, 0.1, 0.2, 0.1, 0.1, 0, 0.1, 0.2, 0.1, 0.2]
R_oper = [0, 0, 0, 0, 0, 0, 0, 0, 0, 0, 0.3, 0.1, 0.1, 0.3, 0.8, 0.3,
          0.1, 0, 0, 0, 0, 0, 1.5, 3.45, 0.7, 0.1, 0.2, 0.2, 0.3, 1.55, 0.4, 0.1,
          3.45, 0.3, 0.1, 0, 0.1, 0, 0.1, 0, 0.1, 0.2, 0.1, 0, 0.2, 0.1, 0.55, 0.3,
          0.7, 1.3, 0.3, 0.1, 0.2, 0.1, 0.3, 0.1, 2.3, 0.4, 0.1, 0.1, 0.2, 0.3, 0.1, 0.2]
R_mean = [0, 0, 0, 0, 0, 0, 0, 0.02, 0.05, 0.05, 0.1, 0.05, 0.3, 0.7, 0.8, 0.7,
          0.8, 0.3, 0.05, 0.05, 0.05, 0.05, 0.1, 0.2, 0.4, 0.55, 0.4, 0.2, 0.55, 0.2, 0.1, 0.15,
          0.2, 0.1, 0.05, 0.2, 0.4, 0.55, 0.5, 0.3, 0.7, 0.6, 0.55, 0.7, 0.45, 0.3, 0.3, 0.5,
          0.8, 0.8, 0.4, 0.3, 0.9, 0.8, 0.7, 0.7, 0.6, 0.55, 0.35, 0.45, 0.55, 0.45, 0.3, 0.7]

member_names = ["P%d" % k for k in range(1, 31)]
temp_members = [T_P1, T_P2, T_P3, T_P4, T_P5, T_P6, T_P7, T_P8, T_P9, T_P10,
                T_P11, T_P12, T_P13, T_P14, T_P15, T_P16, T_P17, T_P18, T_P19, T_P20,
                T_P21, T_P22, T_P23, T_P24, T_P25, T_P26, T_P27, T_P28, T_P29, T_P30]
rain_members = [R_P1, R_P2, R_P3, R_P4, R_P5, R_P6, R_P7, R_P8, R_P9, R_P10,
                R_P11, R_P12, R_P13, R_P14, R_P15, R_P16, R_P17, R_P18, R_P19, R_P20,
                R_P21, R_P22, R_P23, R_P24, R_P25, R_P26, R_P27, R_P28, R_P29, R_P30]

# colours of P1..P20, P21..P30 reuse P1..P10
palette = ["#2030d8", "#1050c8", "#1878c8", "#1098c8", "#10a8b0", "#10a088", "#10a060", "#10a848",
           "#10b030", "#10b818", "#b8b810", "#c0a810", "#c09810", "#c08810", "#c07010", "#b86010",
           "#b84818", "#b03818", "#a82818", "#982018"]
member_colors = [palette[k % 20] for k in range(30)]
CONTROL_COLOR = "#0000ff"
OPER_COLOR = "#10e010"
MEAN_COLOR = "#ffffff"

fig = go.Figure()

# members: temperature + precipitation
for name, col, tser, rser in zip(member_names, member_colors, temp_members, rain_members):
    fig.add_trace(go.Scatter(x=times, y=tser, mode="lines", name=name,
                             line=dict(color=col, width=1), showlegend=False))
    fig.add_trace(go.Scatter(x=times, y=rser, mode="lines", name=name, yaxis="y2",
                             line=dict(color=col, width=1), showlegend=False))

# control, ensemble mean, operational run on top
for name, col, tser, rser, w in [("Control", CONTROL_COLOR, T_control, R_control, 3),
                                 ("Ens. mean", MEAN_COLOR, T_mean, R_mean, 3),
                                 ("Oper", OPER_COLOR, T_oper, R_oper, 3.5)]:
    fig.add_trace(go.Scatter(x=times, y=tser, mode="lines", name=name,
                             line=dict(color=col, width=w), showlegend=False))
    fig.add_trace(go.Scatter(x=times, y=rser, mode="lines", name=name, yaxis="y2",
                             line=dict(color=col, width=w), showlegend=False))

# === Hand-made two-column legend on the left ===
PLOT_L, PLOT_R, PLOT_T, PLOT_B = 163, 810, 30, 559
def px_x(px):
    return (px - PLOT_L) / (PLOT_R - PLOT_L)
def px_y(py):
    return (PLOT_B - py) / (PLOT_B - PLOT_T)

left_col = [(n, c) for n, c in zip(member_names[0::2], member_colors[0::2])] + \
           [("Control", CONTROL_COLOR), ("Oper", OPER_COLOR)]
right_col = [(n, c) for n, c in zip(member_names[1::2], member_colors[1::2])] + \
            [("Ens. mean", MEAN_COLOR)]

annotations = []
shapes = []
for col_items, x0 in [(left_col, 0), (right_col, 55)]:
    for row, (label, colr) in enumerate(col_items):
        ypx = 40 + 15.05 * row
        shapes.append(dict(type="line", xref="paper", yref="paper",
                           x0=px_x(x0), x1=px_x(x0 + 10), y0=px_y(ypx), y1=px_y(ypx),
                           line=dict(color=colr, width=2)))
        annotations.append(dict(text=label, xref="paper", yref="paper",
                                x=px_x(x0 + 9), y=px_y(ypx), xanchor="left", yanchor="middle",
                                showarrow=False, font=dict(size=10, color="#ffffff")))

# axis titles placed by hand (rotated)
annotations.append(dict(text="2m Temp. (°C)", xref="paper", yref="paper",
                        x=px_x(132), y=px_y(294), textangle=-90,
                        xanchor="center", yanchor="middle", showarrow=False,
                        font=dict(size=10, color="#e8e8e8")))
annotations.append(dict(text="Neerslag (mm)", xref="paper", yref="paper",
                        x=px_x(840), y=px_y(294), textangle=-90,
                        xanchor="center", yanchor="middle", showarrow=False,
                        font=dict(size=10, color="#e8e8e8")))

annotations.append(dict(text="GFS Ensemble, 51N, 4.5E", xref="paper", yref="paper",
                        x=px_x(120), y=px_y(599), xanchor="left", yanchor="middle",
                        showarrow=False, font=dict(size=16, color="#e8e8e8")))
annotations.append(dict(text="Wetterzentrale.de", xref="paper", yref="paper",
                        x=px_x(794), y=px_y(599), xanchor="right", yanchor="middle",
                        showarrow=False, font=dict(size=16, color="#e8e8e8")))

GRID = "#3c3c3c"
fig.update_layout(
    width=850, height=620,
    paper_bgcolor="black", plot_bgcolor="black",
    margin=dict(l=PLOT_L, r=850 - PLOT_R, t=PLOT_T, b=620 - PLOT_B, autoexpand=False),
    font=dict(family="DejaVu Sans", size=10, color="#e8e8e8"),
    title=dict(text="<b>Brussels\u00a0 (BE)\u00a0 2m Temp. &amp; Neerslag | Wed, 12Aug2026 06Z</b>",
               x=436 / 850, xref="container", xanchor="center",
               y=1 - 12 / 620, yref="container", yanchor="middle",
               font=dict(size=16, color="#ffffff")),
    showlegend=False,
    annotations=annotations,
    shapes=shapes,
    xaxis=dict(type="date", range=["2026-08-12 00:00", "2026-08-28 06:00"],
               tick0="2026-08-12", dtick=2 * 86400000, tickformat="%d%b %Hz",
               showgrid=True, gridcolor=GRID, griddash="5px,4px", gridwidth=1,
               minor=dict(dtick=86400000, showgrid=True, gridcolor=GRID, griddash="5px,4px"),
               showline=True, linecolor="#ffffff", linewidth=1, mirror=True,
               ticks="", zeroline=False, ticklabelstandoff=5, automargin=False,
               title=dict(text="Date (UTC)", standoff=10, font=dict(size=10))),
    yaxis=dict(range=[-10, 55], dtick=5, tick0=0,
               showgrid=True, gridcolor=GRID, griddash="5px,4px", gridwidth=1,
               zeroline=True, zerolinecolor="#ffffff", zerolinewidth=1,
               showline=True, linecolor="#ffffff", linewidth=1, mirror=True,
               ticks="", ticklabelstandoff=9, automargin=False),
    yaxis2=dict(range=[0, 40], dtick=10, overlaying="y", side="right",
                showgrid=False, zeroline=False, automargin=False,
                showline=True, linecolor="#ffffff", linewidth=1,
                ticks="inside", ticklen=5, tickcolor="#ffffff", ticklabelstandoff=2,
                minor=dict(dtick=1, ticks="inside", ticklen=5, tickcolor="#ffffff")),
)

# the page is photographed at 850x620: drop the default body margin, no modebar
fig.write_html("out.html", config={"displayModeBar": False},
               post_script="document.body.style.margin='0';")
